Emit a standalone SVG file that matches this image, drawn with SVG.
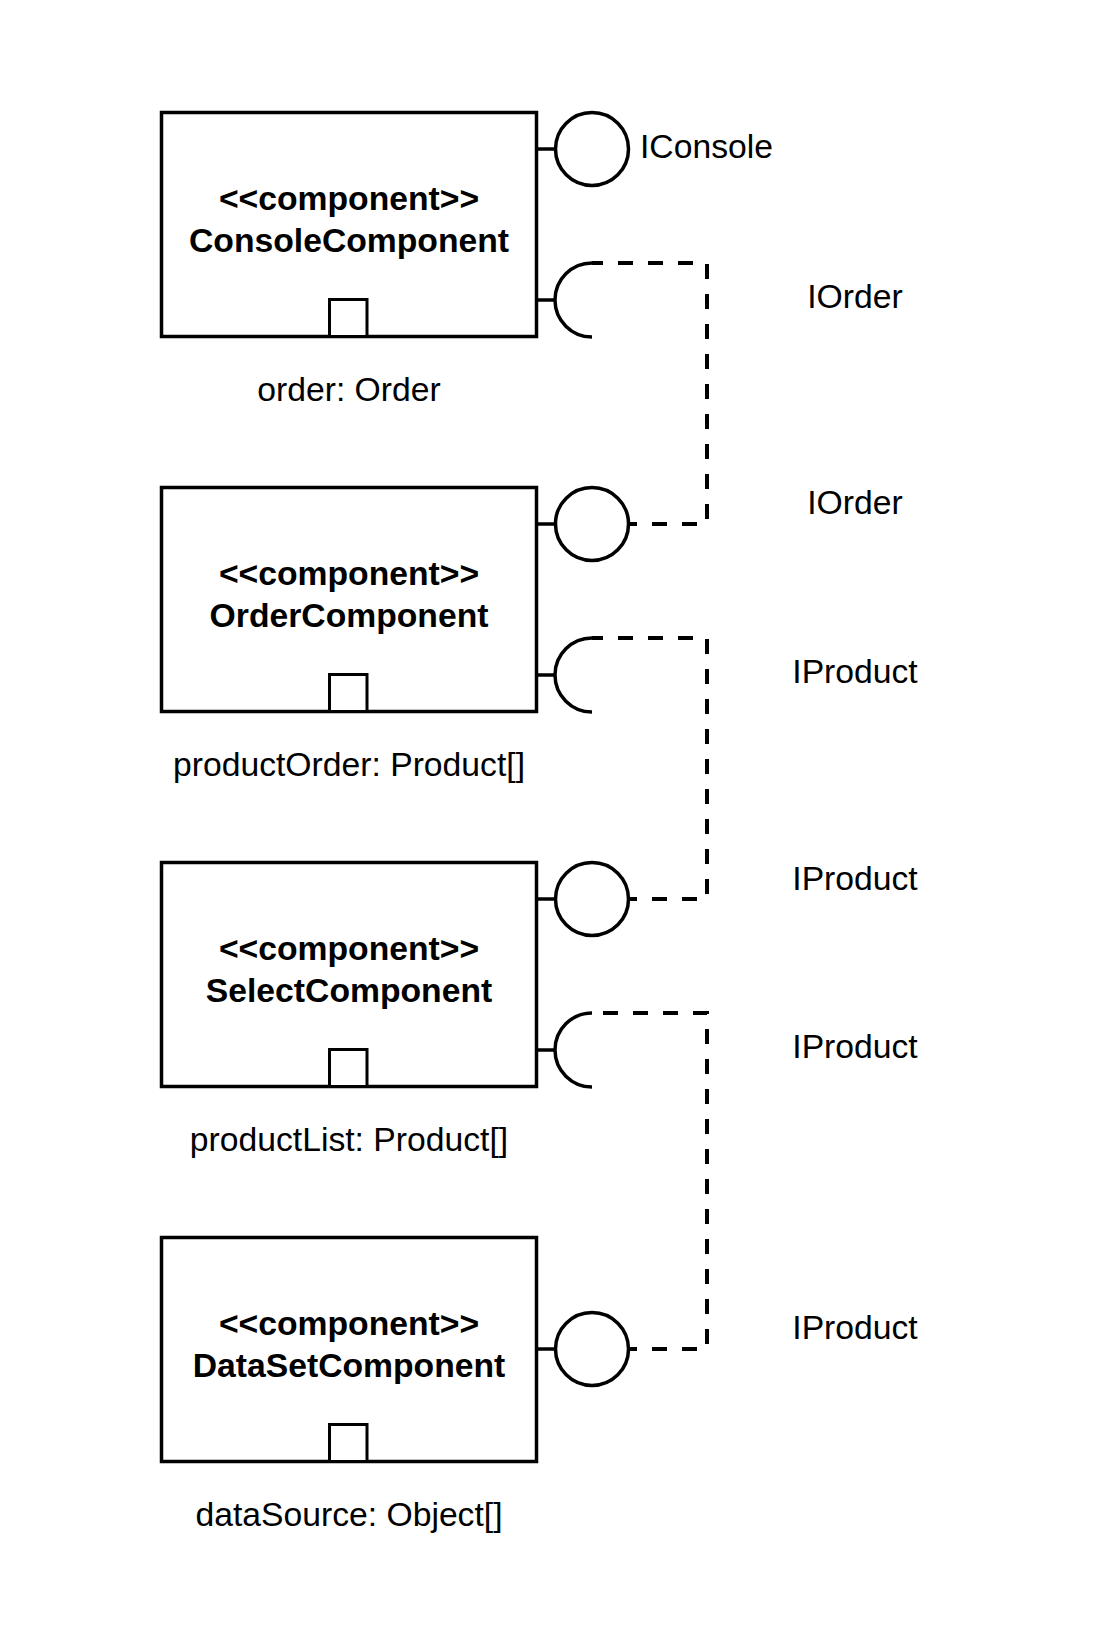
<svg xmlns="http://www.w3.org/2000/svg" width="1093" height="1650" viewBox="0 0 1093 1650">
<style>
.box{fill:#fff;stroke:#000;stroke-width:3.5}
.port{fill:#fff;stroke:#000;stroke-width:3}
.ln{fill:none;stroke:#000;stroke-width:3.5}
.lol{fill:#fff;stroke:#000;stroke-width:3.5}
.dash{fill:none;stroke:#000;stroke-width:4;stroke-dasharray:15 15}
.b{font-family:"Liberation Sans",Arial,sans-serif;font-size:33.7px;font-weight:bold;text-anchor:middle}
.t{font-family:"Liberation Sans",Arial,sans-serif;font-size:33.7px;text-anchor:middle}
.l{font-family:"Liberation Sans",Arial,sans-serif;font-size:33.7px}
</style>
<rect width="1093" height="1650" fill="#fff"/>
<g id="connectors">
<path class="dash" d="M592,524 H707 V263 H592"/>
<path class="dash" d="M592,899 H707 V638 H592"/>
<path class="dash" d="M592,1349 H707 V1013 H592"/>
</g>
<g id="console">
<rect class="box" x="161.5" y="112.5" width="375" height="224"/>
<rect class="port" x="329.5" y="299.5" width="37.5" height="37"/>
<text class="b" x="349" y="210">&lt;&lt;component&gt;&gt;</text>
<text class="b" x="349" y="252">ConsoleComponent</text>
<text class="t" x="349" y="401">order: Order</text>
<line class="ln" x1="536.5" y1="149" x2="555.5" y2="149"/>
<circle class="lol" cx="592" cy="149" r="36.5"/>
<line class="ln" x1="536.5" y1="300" x2="555.5" y2="300"/>
<path class="ln" d="M592,263 A37,37 0 0,0 592,337"/>
<text class="l" x="640" y="158">IConsole</text>
<text class="t" x="855" y="308">IOrder</text>
</g>
<g id="order">
<rect class="box" x="161.5" y="487.5" width="375" height="224"/>
<rect class="port" x="329.5" y="674.5" width="37.5" height="37"/>
<text class="b" x="349" y="585">&lt;&lt;component&gt;&gt;</text>
<text class="b" x="349" y="627">OrderComponent</text>
<text class="t" x="349" y="776">productOrder: Product[]</text>
<line class="ln" x1="536.5" y1="524" x2="555.5" y2="524"/>
<circle class="lol" cx="592" cy="524" r="36.5"/>
<line class="ln" x1="536.5" y1="675" x2="555.5" y2="675"/>
<path class="ln" d="M592,638 A37,37 0 0,0 592,712"/>
<text class="t" x="855" y="514">IOrder</text>
<text class="t" x="855" y="683">IProduct</text>
</g>
<g id="select">
<rect class="box" x="161.5" y="862.5" width="375" height="224"/>
<rect class="port" x="329.5" y="1049.5" width="37.5" height="37"/>
<text class="b" x="349" y="960">&lt;&lt;component&gt;&gt;</text>
<text class="b" x="349" y="1002">SelectComponent</text>
<text class="t" x="349" y="1151">productList: Product[]</text>
<line class="ln" x1="536.5" y1="899" x2="555.5" y2="899"/>
<circle class="lol" cx="592" cy="899" r="36.5"/>
<line class="ln" x1="536.5" y1="1050" x2="555.5" y2="1050"/>
<path class="ln" d="M592,1013 A37,37 0 0,0 592,1087"/>
<text class="t" x="855" y="890">IProduct</text>
<text class="t" x="855" y="1058">IProduct</text>
</g>
<g id="dataset">
<rect class="box" x="161.5" y="1237.5" width="375" height="224"/>
<rect class="port" x="329.5" y="1424.5" width="37.5" height="37"/>
<text class="b" x="349" y="1335">&lt;&lt;component&gt;&gt;</text>
<text class="b" x="349" y="1377">DataSetComponent</text>
<text class="t" x="349" y="1526">dataSource: Object[]</text>
<line class="ln" x1="536.5" y1="1349" x2="555.5" y2="1349"/>
<circle class="lol" cx="592" cy="1349" r="36.5"/>
<text class="t" x="855" y="1339">IProduct</text>
</g>
</svg>
